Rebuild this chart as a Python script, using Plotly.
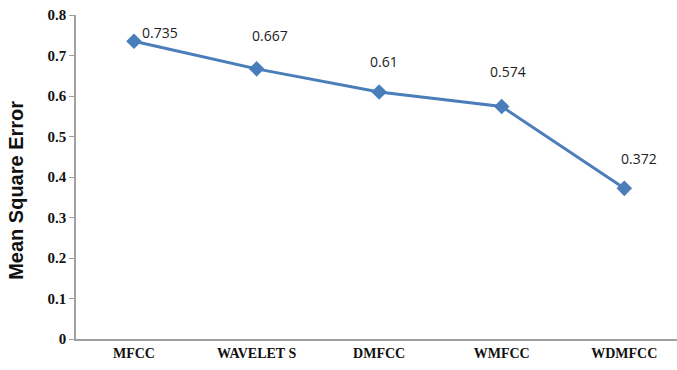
import plotly.graph_objects as go

categories = ["MFCC", "WAVELETS", "DMFCC", "WMFCC", "WDMFCC"]
tick_text = ["MFCC", "WAVELET S", "DMFCC", "WMFCC", "WDMFCC"]
mse_values = [0.735, 0.667, 0.61, 0.574, 0.372]
value_labels = ["0.735", "0.667", "0.61", "0.574", "0.372"]
y_title = "Mean Square Error"

# label offsets (pixels) relative to each point
label_dx = [26, 13, 5, 6, 15]
label_dy = [9, 33, 30, 35, 30]

blue = "#4A7EBB"

fig = go.Figure()
fig.add_trace(go.Scatter(
    x=categories, y=mse_values, mode="lines+markers",
    line=dict(color=blue, width=3),
    marker=dict(symbol="diamond", size=12, color=blue),
    showlegend=False, cliponaxis=False,
))

for c, v, t, dx, dy in zip(categories, mse_values, value_labels, label_dx, label_dy):
    fig.add_annotation(x=c, y=v, text=t, showarrow=False,
                       xshift=dx, yshift=dy,
                       font=dict(family="Open Sans, Liberation Sans, sans-serif", size=14, color="#222"))

# y-axis title as rotated annotation (positioned slightly below plot centre)
fig.add_annotation(xref="paper", yref="paper", x=-0.1, y=0.46,
                   text="<b>%s</b>" % y_title, textangle=-90, showarrow=False,
                   xanchor="center", yanchor="middle",
                   font=dict(family="Liberation Sans, Arial, sans-serif", size=20, color="#111"))

fig.update_layout(
    width=677, height=370,
    margin=dict(l=76, r=0, t=15, b=31),
    plot_bgcolor="white", paper_bgcolor="white",
    xaxis=dict(
        type="category", range=[-0.473, 4.43],
        tickvals=categories, ticktext=["<b>%s</b>" % t for t in tick_text],
        showline=True, linecolor="#A0A0A0", linewidth=1.5,
        showgrid=False, ticks="", zeroline=False,
        tickfont=dict(family="Liberation Serif, serif", size=14, color="#111"),
    ),
    yaxis=dict(
        range=[0, 0.8],
        tickvals=[i / 10 for i in range(9)],
        ticktext=["<b>%s</b>" % ("0" if i == 0 else "%.1f" % (i / 10)) for i in range(9)],
        showline=True, linecolor="#A0A0A0", linewidth=1.5,
        showgrid=False, zeroline=False,
        ticks="outside", ticklen=5, tickcolor="#A0A0A0",
        tickfont=dict(family="Liberation Serif, serif", size=15, color="#111"),
    ),
)

fig.write_html("out.html")
